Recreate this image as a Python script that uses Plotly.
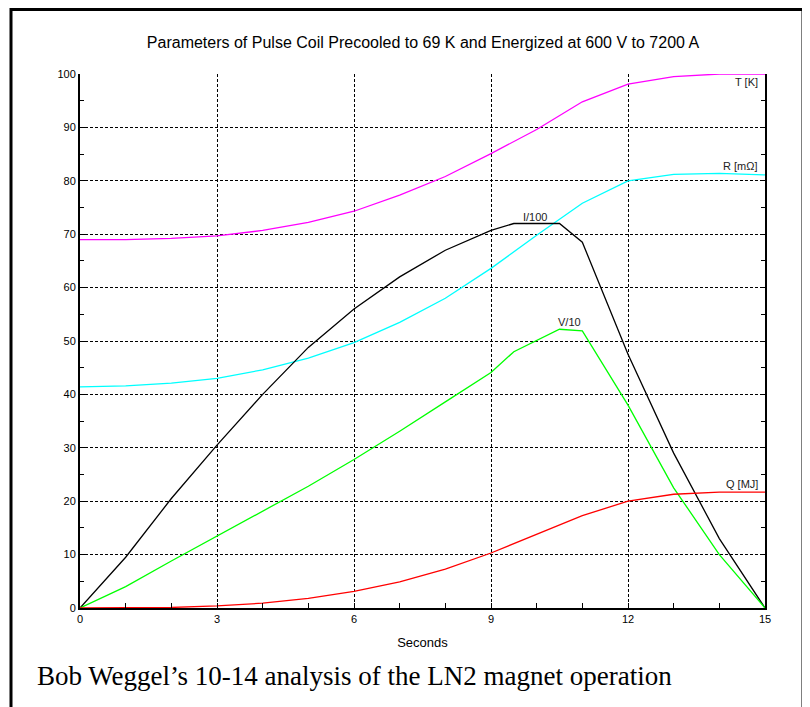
import plotly.graph_objects as go

# ---- data ----
t_full = [0, 1, 2, 3, 4, 5, 6, 7, 8, 9, 10, 11, 12, 13, 14, 15]
T_K = [69, 69, 69.2, 69.7, 70.7, 72.2, 74.3, 77.3, 80.8, 85.1, 89.6, 94.8, 98.1, 99.5, 100, 100]
R_mohm = [41.4, 41.6, 42.1, 43.0, 44.6, 46.8, 49.7, 53.5, 58.0, 63.6, 69.8, 75.8, 80.0, 81.2, 81.4, 81.1]
Q_MJ = [0, 0, 0.1, 0.4, 0.9, 1.8, 3.1, 4.9, 7.3, 10.3, 13.8, 17.3, 20.0, 21.3, 21.7, 21.7]

t_iv = [0, 1, 2, 3, 4, 5, 6, 7, 8, 9, 9.5, 10.5, 11, 12, 13, 14, 15]
I_100 = [0, 9.5, 20.5, 30.5, 40, 48.8, 56, 62, 67, 70.7, 72, 72, 68.5, 47.5, 29, 13, 0]
V_10 = [0, 4, 8.8, 13.5, 18.1, 22.8, 27.8, 33.1, 38.6, 44.1, 48.0, 52.2, 51.9, 38, 22.5, 10, 0]

x_ticks = [0, 3, 6, 9, 12, 15]
y_ticks = [0, 10, 20, 30, 40, 50, 60, 70, 80, 90, 100]

series = [
    ("T", t_full, T_K, "#ff00ff"),
    ("R", t_full, R_mohm, "#00ffff"),
    ("I", t_iv, I_100, "#000000"),
    ("V", t_iv, V_10, "#00ff00"),
    ("Q", t_full, Q_MJ, "#ff0000"),
]

# page has an 8px body margin: figure origin sits at (8, 8) in the window
OFF = 8
W, H = 802, 699
L, T = 80 - OFF, 74 - OFF
PW, PH = 685, 534
R_ = W - L - PW
B_ = H - T - PH

def px(xp):
    return (xp - 80) / PW

def py(yp):
    return (608 - yp) / PH

fig = go.Figure()
for name, xs, ys, col in series:
    fig.add_trace(go.Scatter(x=xs, y=ys, mode="lines", name=name,
                             line=dict(color=col, width=1.3), showlegend=False,
                             hoverinfo="skip"))

font_sans = "Arial, Liberation Sans, sans-serif"
lab_font = dict(family=font_sans, size=11, color="#222222")
labels = [
    ("T [K]", 14.9, 98.5, "right"),
    ("R [mΩ]", 14.9, 82.7, "right"),
    ("I/100", 9.96, 73.3, "center"),
    ("V/10", 10.72, 53.5, "center"),
    ("Q [MJ]", 14.9, 23.3, "right"),
]
for txt, lx, ly, al in labels:
    fig.add_annotation(x=lx, y=ly, text=txt, showarrow=False, xanchor=al,
                       yanchor="middle", font=lab_font)

# caption
fig.add_annotation(xref="paper", yref="paper", x=px(35), y=py(676),
                   text="Bob Weggel\u2019s 10-14 analysis of the LN2 magnet operation",
                   showarrow=False, xanchor="left", yanchor="middle",
                   font=dict(family="Times New Roman, Liberation Serif, serif", size=27, color="black"))

# outer border
fig.add_shape(type="rect", xref="paper", yref="paper",
              x0=px(11), x1=px(803),
              y0=py(720), y1=py(OFF + 1.5),
              line=dict(color="black", width=3), fillcolor="rgba(0,0,0,0)", layer="below")

fig.update_layout(
    width=W, height=H,
    margin=dict(l=L, r=R_, t=T, b=B_),
    paper_bgcolor="white", plot_bgcolor="white",
    title=dict(text="Parameters of Pulse Coil Precooled to 69 K and Energized at 600 V to 7200 A",
               x=(423 - OFF) / W, xanchor="center", y=1 - (42 - OFF) / H, yanchor="middle",
               font=dict(family=font_sans, size=16, color="black")),
    font=dict(family=font_sans, size=11, color="black"),
)
fig.update_xaxes(range=[0, 15], tickvals=x_ticks, ticks="inside", ticklen=5, tickcolor="black",
                 showline=True, linecolor="black", linewidth=2, mirror=False,
                 showgrid=True, gridcolor="black", gridwidth=1, griddash="3px,2px", zeroline=False,
                 minor=dict(dtick=1, tick0=0, ticks="inside", ticklen=5, tickcolor="black", showgrid=False),
                 title=dict(text="Seconds", font=dict(family=font_sans, size=13, color="black"), standoff=14),
                 tickfont=dict(family=font_sans, size=11, color="black"))
fig.update_yaxes(range=[0, 100], tickvals=y_ticks, ticks="inside", ticklen=5, tickcolor="black",
                 showline=True, linecolor="black", linewidth=2, mirror="ticks",
                 showgrid=True, gridcolor="black", gridwidth=1, griddash="3px,2px", zeroline=False,
                 minor=dict(dtick=5, tick0=0, ticks="inside", ticklen=4, tickcolor="black", showgrid=False),
                 tickfont=dict(family=font_sans, size=11, color="black"))

fig.write_html("out.html")
